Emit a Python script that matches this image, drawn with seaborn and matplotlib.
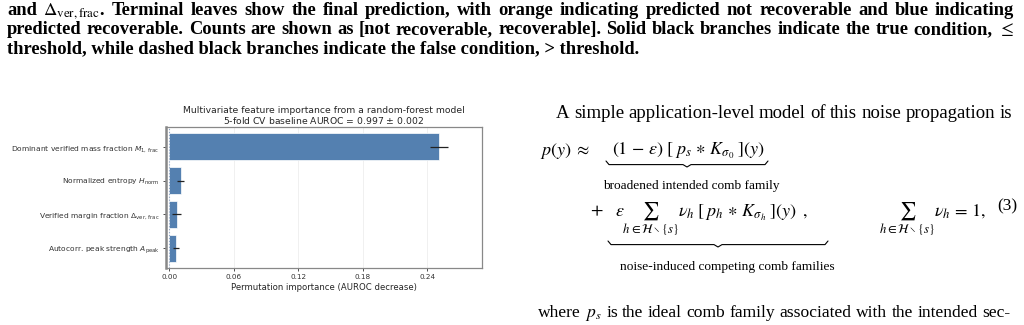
import matplotlib
matplotlib.use("Agg")
import matplotlib.pyplot as plt
import seaborn as sns
from matplotlib.lines import Line2D


# permutation importance
features = [
    "Dominant verified mass fraction $M_{1,\\,\\mathrm{frac}}$",
    "Normalized entropy $H_{\\mathrm{norm}}$",
    "Verified margin fraction $\\Delta_{\\mathrm{ver,\\,frac}}$",
    "Autocorr. peak strength $A_{\\mathrm{peak}}$",
]
importance = [0.251, 0.0105, 0.0071, 0.0065]
importance_std = [0.0088, 0.0031, 0.0042, 0.0028]
xticks = [0.00, 0.06, 0.12, 0.18, 0.24]

caption = [
    "and $\\Delta_{\\mathrm{ver,frac}}$. Terminal leaves show the final prediction, with orange indicating predicted not recoverable and blue indicating",
    "predicted recoverable. Counts are shown as [not recoverable,  recoverable]. Solid black branches indicate the true condition, $\\leq$",
    "threshold, while dashed black branches indicate the false condition, > threshold.",
]

W, H = 1024.0, 325.0


def brace(fig, x0, x1, y, h=6):
    # simple under-brace in pixel coords
    xm = (x0 + x1) / 2
    xs = [x0, x0 + 3, xm - 4, xm, xm + 4, x1 - 3, x1]
    ys = [y, y + h * 0.6, y + h * 0.6, y + h, y + h * 0.6, y + h * 0.6, y]
    fig.add_artist(Line2D([v / W for v in xs], [1 - v / H for v in ys],
                          color="black", lw=0.8, transform=fig.transFigure))


def justified(fig, line, x0, x1, base, **kw):
    # place words on one baseline so the line fills x0..x1 (pixels)
    renderer = fig.canvas.get_renderer()
    words = line.split()
    texts = [fig.text(0, 1 - base / H, w, va="baseline", ha="left", **kw)
             for w in words]
    widths = [t.get_window_extent(renderer).width for t in texts]
    gap = (x1 - x0 - sum(widths)) / (len(words) - 1)
    x = x0
    for t, w in zip(texts, widths):
        t.set_x(x / W)
        x += w + gap


sns.set_theme(style="whitegrid")
fig = plt.figure(figsize=(10.24, 3.25), dpi=100)
fig.patch.set_facecolor("white")

# ---- chart ----
ax = fig.add_axes([166 / W, 1 - 268 / H, 316 / W, 141 / H])
sns.barplot(x=importance, y=features, orient="h", color="#5480B0", saturation=1,
            edgecolor="white", linewidth=0.5, width=0.8, ax=ax)
ax.errorbar(importance, range(len(features)), xerr=importance_std, fmt="none",
            ecolor="#222222", elinewidth=0.9, capsize=0)
ax.axvline(0, color="#8fa6c8", lw=0.8, ls=":")
ax.set_xlim(-0.003, 0.291)
ax.set_xticks(xticks)
ax.set_xticklabels([f"{t:.2f}" for t in xticks])
ax.grid(axis="y", visible=False)
ax.grid(axis="x", color="#eeeeee", lw=0.6)
ax.tick_params(axis="both", length=2.5, width=0.6, pad=2,
               left=True, bottom=True, colors="#333333")
ax.tick_params(axis="x", labelsize=5.2)
ax.tick_params(axis="y", labelsize=5.4)
ax.set_xlabel("Permutation importance (AUROC decrease)", fontsize=6.1,
              labelpad=2, color="#262626")
ax.set_ylabel("")
ax.set_title("Multivariate feature importance from a random-forest model\n"
             "5-fold CV baseline AUROC = 0.997 $\\pm$ 0.002",
             fontsize=6.7, pad=2.5, color="#262626", linespacing=1.0)
for side, sp in ax.spines.items():
    sp.set_color("#888888")
    sp.set_linewidth(0.9)
ax.spines["left"].set_linewidth(1.8)

# ---- surrounding page text ----
serif = "Liberation Serif"
cap_kw = dict(family=serif, weight="bold", fontsize=13.3,
              math_fontfamily="stix", color="black")
justified(fig, caption[0], 7, 1014, 15, **cap_kw)
justified(fig, caption[1], 7, 1014, 34, **cap_kw)
fig.text(7 / W, 1 - 53 / H, caption[2], va="baseline", ha="left", **cap_kw)

body_kw = dict(family=serif, fontsize=13.5, math_fontfamily="stix", color="black")
justified(fig, "A simple application-level model of this noise propagation is",
          556, 1012, 118, **body_kw)

eq_kw = dict(fontsize=13, math_fontfamily="stix", color="black")
fig.text(540 / W, 1 - 155 / H, "$p(y)\\;\\approx$", va="baseline", **eq_kw)
fig.text(612 / W, 1 - 155 / H,
         "$(1\\,-\\,\\varepsilon)\\;[\\;p_s\\,\\ast\\,K_{\\sigma_0}\\;](y)$",
         va="baseline", **eq_kw)
brace(fig, 606, 768, 161)
fig.text(691 / W, 1 - 186 / H, "broadened intended comb family",
         family=serif, fontsize=9.6, ha="center", va="center", color="black")

fig.text(590 / W, 1 - 210 / H, "$+$", va="center", **eq_kw)
fig.text(615 / W, 1 - 201 / H,
         "$\\varepsilon\\sum_{h\\in\\mathcal{H}\\setminus\\{s\\}}\\nu_h\\;[\\;p_h\\,\\ast\\,K_{\\sigma_h}\\;](y)\\;\\;,$",
         va="top", **eq_kw)
fig.text(879 / W, 1 - 201 / H,
         "$\\sum_{h\\in\\mathcal{H}\\setminus\\{s\\}}\\nu_h\\,=\\,1,$",
         va="top", **eq_kw)
fig.text(1017 / W, 1 - 206 / H, "(3)", family=serif, fontsize=12.5,
         ha="right", va="center", color="black")
brace(fig, 608, 828, 241)
fig.text(727 / W, 1 - 267 / H, "noise-induced competing comb families",
         family=serif, fontsize=9.6, ha="center", va="center", color="black")

where_kw = dict(body_kw, fontsize=12.6)
justified(fig, "where $p_s$ is the ideal comb family associated with the intended sec-",
          538, 1010, 317, **where_kw)

fig.savefig("out.png", dpi=100, facecolor="white")
